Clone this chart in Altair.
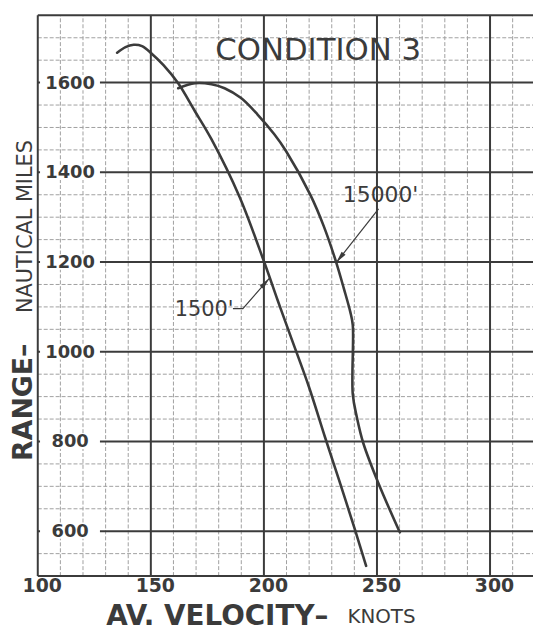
import altair as alt
import pandas as pd

# ---- data ----
v1500 = [135.1, 138.8, 142.4, 146.1, 150.4, 155.6, 162.1, 169.5, 176.8, 189.2,
         200.2, 206.0, 212.0, 219.9, 227.0, 233.5, 240.4, 245.2]
r1500 = [1666.7, 1679.2, 1684.3, 1681.4, 1664.5, 1638.9, 1598.5, 1536.2, 1473.9, 1345.5,
         1198.9, 1116.0, 1032.0, 922.0, 810.0, 710.0, 601.2, 522.7]
v15000 = [162.1, 169.5, 176.8, 182.6, 189.9, 197.2, 204.6, 209.7, 220.6, 226.5,
          232.0, 235.4, 238.2, 239.3, 239.3, 241.1, 244.0, 250.6, 260.1]
r15000 = [1587.5, 1598.5, 1596.3, 1587.5, 1565.5, 1528.9, 1484.9, 1448.2, 1349.2, 1279.5,
          1198.9, 1140.2, 1088.9, 1059.5, 905.5, 854.2, 795.5, 707.5, 597.5]

x_grid = list(range(100, 320, 10))
y_grid = list(range(500, 1751, 50))
x_labels = [100, 150, 200, 250, 300]
y_labels = [600, 800, 1000, 1200, 1400, 1600]

# leader lines (label -> curve)
lead_id = ["a15000", "a15000", "a1500", "a1500", "a1500"]
lead_v = [250.7, 232.0, 186.3, 190.7, 202.4]
lead_r = [1318.4, 1198.9, 1096.2, 1096.2, 1163.7]
head_v = [232.0, 202.4]
head_r = [1198.9, 1163.7]
head_ang = [218, 41]

INK = "#3b3b3b"
MINOR = "#a0a0a0"
FONT = "DejaVu Sans"

df = pd.DataFrame({
    "v": v1500 + v15000,
    "r": r1500 + r15000,
    "series": ["1500'"] * len(v1500) + ["15000'"] * len(v15000),
    "i": list(range(len(v1500))) + list(range(len(v15000))),
})
df_xg = pd.DataFrame({"g": x_grid})
df_yg = pd.DataFrame({"g": y_grid})
df_lab = pd.DataFrame({"r": y_labels, "t": [str(v) for v in y_labels]})
df_lead = pd.DataFrame({"id": lead_id, "v": lead_v, "r": lead_r, "i": list(range(len(lead_v)))})
df_head = pd.DataFrame({"v": head_v, "r": head_r, "ang": head_ang})
one = pd.DataFrame({"a": [0]})

W, H = 499, 565
xs = alt.Scale(domain=[100, 319], nice=False, zero=False)
ys = alt.Scale(domain=[500, 1750], nice=False, zero=False)

xaxis = alt.Axis(
    values=x_labels, grid=False, ticks=False, domain=False, title=None,
    labelFont=FONT, labelFontSize=19, labelFontWeight="bold", labelColor=INK,
    labelPadding=1, labelOffset=4, labelFlush=False, labelOverlap=False,
)
yaxis = alt.Axis(grid=False, ticks=False, domain=False, labels=False, title=None)

xmaj = "datum.g % 50 === 0"
ymaj = "datum.g % 200 === 0 || datum.g === 500 || datum.g === 1750"

minor_v = alt.Chart(df_xg).transform_filter("!(" + xmaj + ")").mark_rule(
    color=MINOR, strokeWidth=1, strokeDash=[4, 2]
).encode(x=alt.X("g:Q", scale=xs), y=alt.datum(500), y2=alt.datum(1750))
minor_h = alt.Chart(df_yg).transform_filter("!(" + ymaj + ")").mark_rule(
    color=MINOR, strokeWidth=1, strokeDash=[4, 2]
).encode(y=alt.Y("g:Q", scale=ys), x=alt.datum(100), x2=alt.datum(319))
major_v = alt.Chart(df_xg).transform_filter(xmaj).mark_rule(
    color=INK, strokeWidth=2
).encode(x=alt.X("g:Q", scale=xs), y=alt.datum(500), y2=alt.datum(1750))
major_h = alt.Chart(df_yg).transform_filter(ymaj).mark_rule(
    color=INK, strokeWidth=2
).encode(y=alt.Y("g:Q", scale=ys), x=alt.datum(100), x2=alt.datum(319))

curves = alt.Chart(df).mark_line(
    interpolate="catmull-rom", strokeWidth=2.6, color=INK, strokeCap="round"
).encode(
    x=alt.X("v:Q", scale=xs, axis=xaxis),
    y=alt.Y("r:Q", scale=ys, axis=yaxis),
    detail="series:N",
    order="i:Q",
)

lab_bg = alt.Chart(df_lab).transform_calculate(
    lo="datum.r - 17", hi="datum.r + 17"
).mark_rect(color="white").encode(
    x=alt.datum(101), x2=alt.datum(127.5),
    y=alt.Y("lo:Q", scale=ys), y2="hi:Q",
)
lab_txt = alt.Chart(df_lab).mark_text(
    font=FONT, fontSize=18, fontWeight="bold", color=INK, align="center", baseline="middle", dy=1
).encode(
    x=alt.datum(114.3), y=alt.Y("r:Q", scale=ys), text="t:N",
)

leads = alt.Chart(df_lead).mark_line(color=INK, strokeWidth=1.2).encode(
    x=alt.X("v:Q", scale=xs), y=alt.Y("r:Q", scale=ys), detail="id:N", order="i:Q",
)
heads = alt.Chart(df_head).mark_point(
    shape="M0,0L-0.25,1.2L0.25,1.2Z", filled=True, color=INK, opacity=1, size=400
).encode(
    x=alt.X("v:Q", scale=xs), y=alt.Y("r:Q", scale=ys), angle=alt.Angle("ang:Q", scale=None),
)

def note(text, v, r, size, weight="normal"):
    return alt.Chart(one).mark_text(
        text=text, font=FONT, fontSize=size, fontWeight=weight, color=INK,
        align="center", baseline="alphabetic",
    ).encode(x=alt.datum(v), y=alt.datum(r))

cond = note("CONDITION 3", 224, 1650.6, 31)
n15000 = note("15000'", 251.6, 1333, 22)
n1500 = note("1500'", 173.6, 1080, 21)

def outer(text, x, y, size, angle=0, weight="normal"):
    return alt.Chart(one).mark_text(
        text=text, font=FONT, fontSize=size, fontWeight=weight, color=INK, align="left",
        baseline="alphabetic", angle=angle,
    ).encode(x=alt.value(x), y=alt.value(y))

xt1 = outer("AV. VELOCITY–", 69, 614, 28, weight="bold")
xt2 = outer("KNOTS", 312, 612, 20)
yt1 = outer("RANGE–", -5.5, 449, 27, angle=270, weight="bold")
yt2 = outer("NAUTICAL MILES", -5.5, 300, 21, angle=270)

chart = alt.layer(
    minor_v, minor_h, major_v, major_h, lab_bg, lab_txt, curves, leads, heads,
    cond, n15000, n1500, xt1, xt2, yt1, yt2
).properties(
    width=W, height=H,
    padding={"left": 30, "top": 5, "right": 0, "bottom": 56},
    autosize=alt.AutoSizeParams(type="none"),
    background="white",
).configure_view(stroke=None)

chart.save("out.html", embed_options={"renderer": "svg", "actions": False})
